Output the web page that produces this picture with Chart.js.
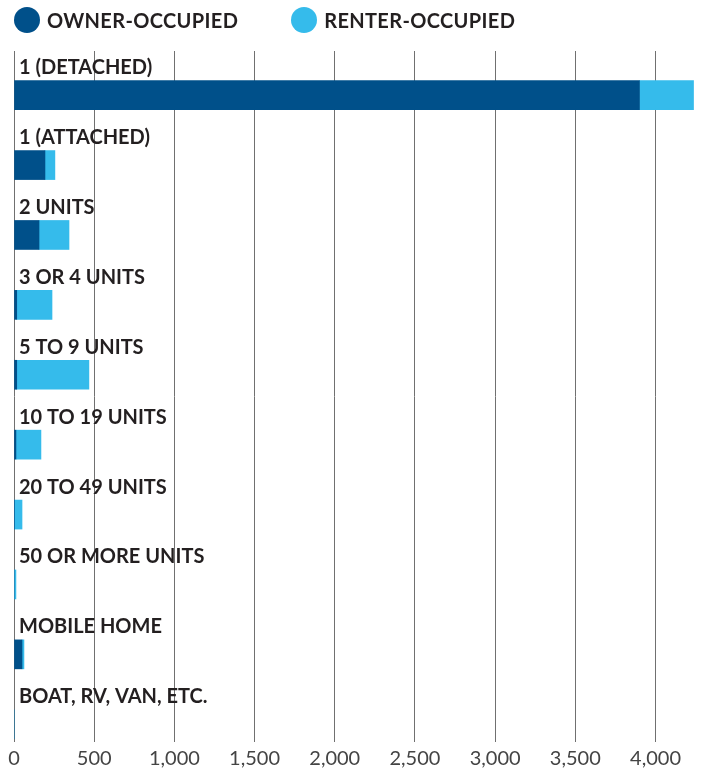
<!DOCTYPE html>
<html>
<head>
<meta charset="utf-8">
<script src="https://cdn.jsdelivr.net/npm/chart.js@4/dist/chart.umd.min.js"></script>
<style>
  body { margin: 0; background: #fff; font-family: Lato, sans-serif; }
  #legend { position: absolute; top: 0; left: 0; display: flex; height: 40px; align-items: center; padding-left: 14px; z-index: 1; }
  .item { display: flex; align-items: center; margin-right: 53px; font-weight: bold; font-size: 20px; letter-spacing: 0.35px; color: #231f20; }
  .dot { width: 26px; height: 26px; border-radius: 50%; margin-right: 7px; }
  #wrap { position: relative; width: 705px; height: 779px; }
</style>
</head>
<body>
<div id="legend"></div>
<div id="wrap"><canvas id="chart"></canvas></div>
<script>
(function () {

  const categories = [
    "1 (DETACHED)", "1 (ATTACHED)", "2 UNITS", "3 OR 4 UNITS", "5 TO 9 UNITS",
    "10 TO 19 UNITS", "20 TO 49 UNITS", "50 OR MORE UNITS", "MOBILE HOME", "BOAT, RV, VAN, ETC."
  ];
  const ownerOccupied = [3900, 193, 156, 17, 17, 12, 3, 0, 50, 0];
  const renterOccupied = [337, 62, 187, 220, 450, 156, 47, 12, 12, 0];
  const xTicks = [0, 500, 1000, 1500, 2000, 2500, 3000, 3500, 4000];
  const seriesNames = ["OWNER-OCCUPIED", "RENTER-OCCUPIED"];
  const seriesColors = ["#00508a", "#35bbeb"];

  function toPoints(values) {
    return values.map((value, i) => ({ x: value, y: i }));
  }

  function renderLegend() {
    const legend = document.getElementById("legend");
    seriesNames.forEach(function (name, i) {
      const item = document.createElement("div");
      item.className = "item";
      const dot = document.createElement("span");
      dot.className = "dot";
      dot.style.background = seriesColors[i];
      item.appendChild(dot);
      item.appendChild(document.createTextNode(name));
      legend.appendChild(item);
    });
  }

  renderLegend();

  new Chart(document.getElementById("chart"), {
    type: "bar",
    data: {
      datasets: [
        { label: seriesNames[0], data: toPoints(ownerOccupied), backgroundColor: seriesColors[0], barThickness: 29 },
        { label: seriesNames[1], data: toPoints(renterOccupied), backgroundColor: seriesColors[1], barThickness: 29 }
      ]
    },
    options: {
      indexAxis: "y",
      responsive: true,
      maintainAspectRatio: false,
      animation: false,
      layout: { padding: { top: 51, left: 4, right: 11, bottom: 3 } },
      plugins: { legend: { display: false }, tooltip: { enabled: false } },
      scales: {
        x: {
          type: "linear",
          stacked: true,
          bounds: "data",
          min: 0,
          max: 4240,
          afterBuildTicks: scale => { scale.ticks = xTicks.map(v => ({ value: v })); },
          border: { display: false },
          grid: { color: "#707070", lineWidth: 1, drawTicks: false },
          ticks: {
            padding: 5,
            color: "#444",
            font: { family: "Lato", size: 20 },
            callback: value => value.toLocaleString("en-US")
          }
        },
        y: {
          type: "linear",
          stacked: true,
          reverse: true,
          offset: false,
          bounds: "data",
          min: -0.632,
          max: 9.254,
          afterBuildTicks: scale => { scale.ticks = categories.map((c, i) => ({ value: i })); },
          border: { display: false },
          grid: { display: false, drawTicks: false },
          ticks: {
            autoSkip: false,
            mirror: true,
            padding: 5,
            labelOffset: -27.5,
            color: "#231f20",
            font: { family: "Lato", size: 20, weight: "bold" },
            callback: value => categories[value]
          }
        }
      }
    }
  });

})();
</script>
</body>
</html>
